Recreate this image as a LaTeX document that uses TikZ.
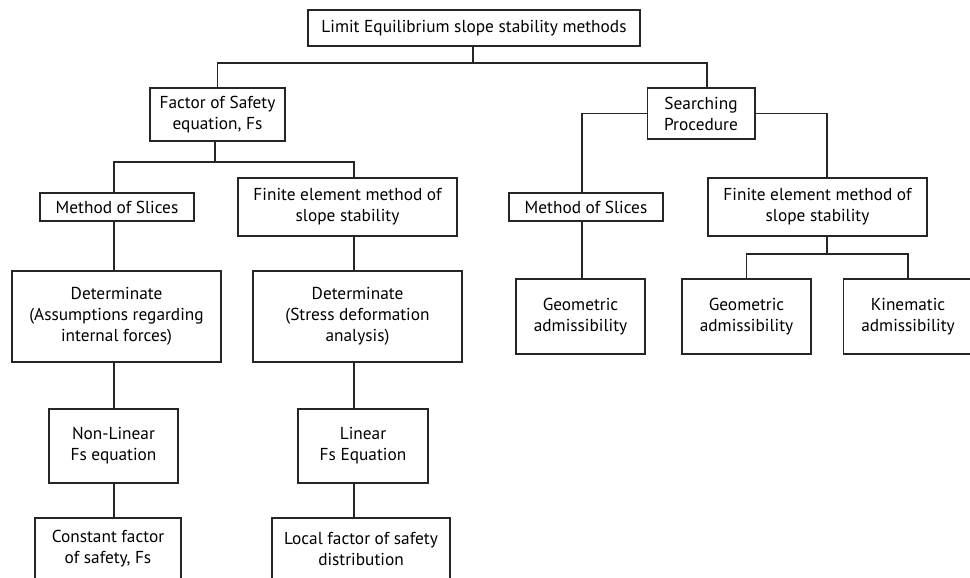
\documentclass[tikz,border=0pt]{standalone}
\usepackage{fontspec}
\setmainfont{PT Sans}
\usepackage{tikz}

\begin{document}
\begin{tikzpicture}[x=0.025cm, y=-0.025cm,
        blk/.style={draw=black!85, line width=1.4pt, align=center, inner sep=0pt,
            font=\fontsize{12.3}{15}\selectfont},
        lnk/.style={draw=black!85, line width=1.4pt}]

            \clip (0, 0) rectangle (970, 577);

            \coordinate (colA) at (114, 0);
            \coordinate (colB) at (354, 0);
            \coordinate (colC) at (582, 0);
            \coordinate (colD) at (827, 0);
            \coordinate (colE) at (707, 0);

            \node[blk, minimum width=8.3cm, minimum height=0.9cm] (top) at (474, 28) {Limit Equilibrium slope stability methods};

            \node[blk, minimum width=3.375cm, minimum height=1.325cm] (fos) at (217.5, 114.5) {Factor of Safety\\equation, Fs};
            \node[blk, minimum width=2.675cm, minimum height=1.275cm] (search) at (701, 113.5) {Searching\\Procedure};

            \node[blk, minimum width=3.85cm, minimum height=0.7cm] (mosl) at (117, 207) {Method of Slices};
            \node[blk, minimum width=5.475cm, minimum height=1.45cm] (feml) at (347.5, 207) {Finite element method of\\slope stability};
            \node[blk, minimum width=3.85cm, minimum height=0.7cm] (mosr) at (586, 207) {Method of Slices};
            \node[blk, minimum width=5.475cm, minimum height=1.45cm] (femr) at (817.5, 207) {Finite element method of\\slope stability};

            \node[blk, minimum width=5.225cm, minimum height=2.275cm] (detl) at (116.5, 316.5) {Determinate\\(Assumptions regarding\\internal forces)};
            \node[blk, minimum width=5.225cm, minimum height=2.275cm] (detr) at (357.5, 316.5) {Determinate\\(Stress deformation\\analysis)};
            \node[blk, minimum width=3.225cm, minimum height=1.875cm] (geoa) at (580.5, 316.5) {Geometric\\admissibility};
            \node[blk, minimum width=3.225cm, minimum height=1.875cm] (geob) at (746.5, 316.5) {Geometric\\admissibility};
            \node[blk, minimum width=3.225cm, minimum height=1.875cm] (kin) at (908, 316.5) {Kinematic\\admissibility};

            \node[blk, minimum width=3.225cm, minimum height=1.85cm] (nonlin) at (113.5, 446) {Non-Linear\\Fs equation};
            \node[blk, minimum width=3.25cm, minimum height=1.85cm] (lin) at (363, 446) {Linear\\Fs Equation};

            \node[blk, minimum width=3.65cm, minimum height=1.55cm] (const) at (108, 549) {Constant factor\\of safety, Fs};
            \node[blk, minimum width=4.45cm, minimum height=1.55cm] (local) at (361, 549) {Local factor of safety\\distribution};

            \coordinate (bus1) at (473, 63);
            \coordinate (bus2) at (215, 162);
            \coordinate (bus3) at (827, 254);

            \draw[lnk] (top.south -| bus1) -- (bus1);
            \draw[lnk] (fos.north) |- (bus1) -| (search.north -| colE);

            \draw[lnk] (fos.south -| bus2) -- (bus2);
            \draw[lnk] (mosl.north -| colA) |- (bus2) -| (feml.north -| colB);

            \draw[lnk] (search.west) -| (mosr.north -| colC);
            \draw[lnk] (search.east) -| (femr.north -| colD);

            \draw[lnk] (mosl.south -| colA) -- (detl.north -| colA);
            \draw[lnk] (detl.south -| colA) -- (nonlin.north -| colA);
            \draw[lnk] (nonlin.south -| colA) -- (const.north -| colA);

            \draw[lnk] (feml.south -| colB) -- (detr.north -| colB);
            \draw[lnk] (detr.south -| colB) -- (lin.north -| colB);
            \draw[lnk] (lin.south -| colB) -- (local.north -| colB);

            \draw[lnk] (mosr.south -| colC) -- (geoa.north -| colC);

            \draw[lnk] (femr.south -| colD) -- (bus3);
            \draw[lnk] (geob.north) |- (bus3) -| (kin.north);
        \end{tikzpicture}
\end{document}
